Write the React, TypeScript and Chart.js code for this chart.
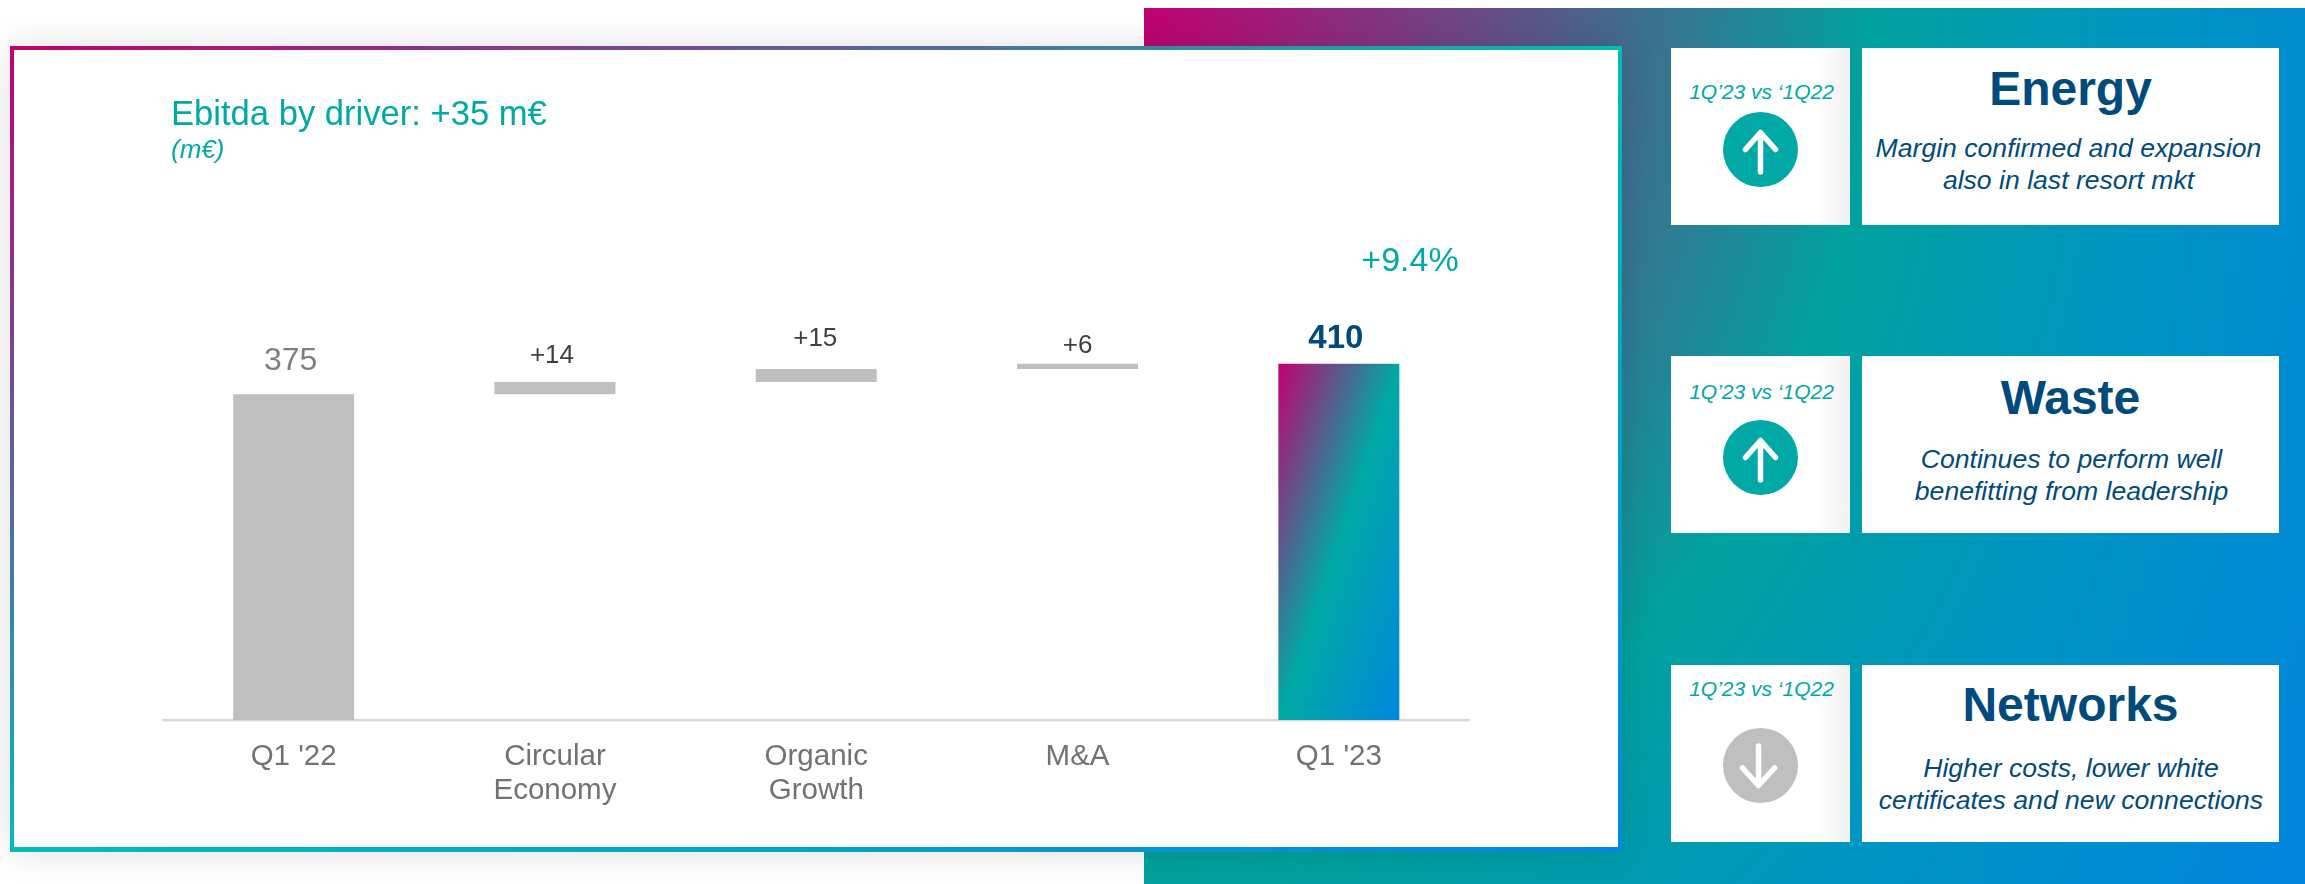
import React, { useEffect, useRef } from "react";
import { Chart, registerables } from "chart.js";

Chart.register(...registerables);

const categories: (string | string[])[] = ["Q1 '22", ["Circular", "Economy"], ["Organic", "Growth"], "M&A", "Q1 '23"];
const barRanges: [number, number][] = [[0, 375], [375, 389], [389, 404], [404, 410], [0, 410]];
const valueLabels = ["375", "+14", "+15", "+6", "410"];

const FONT = '"Liberation Sans", Arial, sans-serif';
const MAGENTA = "#c2006f";
const TEAL = "#00a9a5";
const BLUE = "#0088dc";
const NAVY = "#004a7c";
const GREY = "#bfbfbf";

// Style of each value label: font, colour, lift above the bar, horizontal nudge
const labelStyles = [
  { font: `32px ${FONT}`, color: "#7f7f7f", lift: 24, dx: -3 },
  { font: `26px ${FONT}`, color: "#404040", lift: 19, dx: -3 },
  { font: `26px ${FONT}`, color: "#404040", lift: 23, dx: -1 },
  { font: `26px ${FONT}`, color: "#404040", lift: 11, dx: 0 },
  { font: `bold 33px ${FONT}`, color: NAVY, lift: 16, dx: -3 },
];

const valueLabelPlugin = {
  id: "valueLabels",
  afterDatasetsDraw(chart: any) {
    const { ctx } = chart;
    const bars = chart.getDatasetMeta(0).data;
    ctx.save();
    ctx.textAlign = "center";
    ctx.textBaseline = "alphabetic";
    bars.forEach((bar: any, i: number) => {
      const s = labelStyles[i];
      ctx.font = s.font;
      ctx.fillStyle = s.color;
      ctx.fillText(valueLabels[i], bar.x + s.dx, Math.min(bar.y, bar.base) - s.lift);
    });
    ctx.restore();
  },
};

function barFill(context: any) {
  if (context.dataIndex !== 4) return GREY;
  const { chart } = context;
  const { x, y } = chart.scales;
  if (!x || !y) return TEAL;
  const half = (x.getPixelForValue(4) - x.getPixelForValue(3)) * 0.23;
  const left = x.getPixelForValue(4) - half;
  const top = y.getPixelForValue(barRanges[4][1]);
  const w = half * 2;
  const h = y.getPixelForValue(0) - top;
  // Axis perpendicular to the bar's anti-diagonal, so the mid stop joins two corners
  const k = (2 * w * h) / (w * w + h * h);
  const g = chart.ctx.createLinearGradient(left, top, left + h * k, top + w * k);
  g.addColorStop(0, MAGENTA);
  g.addColorStop(0.5, TEAL);
  g.addColorStop(1, BLUE);
  return g;
}

function BaselineText(props: {
  x: number; w: number; base: number; size: number; color: string;
  bold?: boolean; italic?: boolean; align?: "left" | "center"; children: React.ReactNode;
}) {
  const { x, w, base, size, color, bold, italic, align = "center", children } = props;
  const lh = size * 1.2;
  const top = base - ((lh - 1.117 * size) / 2 + 0.905 * size);
  return (
    <div
      style={{
        position: "absolute", left: x, top, width: w, textAlign: align, whiteSpace: "nowrap",
        fontFamily: FONT, fontSize: size, lineHeight: `${lh}px`, color,
        fontWeight: bold ? 700 : 400, fontStyle: italic ? "italic" : "normal",
      }}
    >
      {children}
    </div>
  );
}

function ArrowBadge(props: { top: number; up: boolean }) {
  const { top, up } = props;
  const fill = up ? TEAL : GREY;
  return (
    <svg style={{ position: "absolute", left: 1723, top }} width={75} height={75} viewBox="0 0 75 75">
      <circle cx={37.5} cy={37.5} r={37.5} fill={fill} />
      <g stroke="#fff" strokeWidth={5.5} strokeLinecap="round" strokeLinejoin="round" fill="none">
        {up ? (
          <path d="M37.5 60 V22 M22.5 37.5 L37.5 20.5 L52.5 37.5" />
        ) : (
          <path d="M35.5 18 V56 M19.5 40 L35.5 57.5 L51.5 40" />
        )}
      </g>
    </svg>
  );
}

const driverCards = [
  { top: 48, title: "Energy", lines: ["Margin confirmed and expansion", "also in last resort mkt"], up: true,
    periodBase: 99, titleBase: 105, lineBases: [158, 190], lineX: 1860, badgeTop: 112 },
  { top: 356, title: "Waste", lines: ["Continues to perform well", "benefitting from leadership"], up: true,
    periodBase: 399, titleBase: 414, lineBases: [469, 501], lineX: 1863, badgeTop: 420 },
  { top: 665, title: "Networks", lines: ["Higher costs, lower white", "certificates and new connections"], up: false,
    periodBase: 696, titleBase: 721, lineBases: [778, 810], lineX: 1862.5, badgeTop: 728 },
];

export default function App() {
  const canvasRef = useRef<HTMLCanvasElement>(null);

  useEffect(() => {
    document.body.style.margin = "0";
    document.body.style.background = "#fff";
    document.body.style.overflow = "hidden";
    const chart = new Chart(canvasRef.current!, {
      type: "bar",
      data: {
        labels: categories as any,
        datasets: [{
          data: barRanges as any,
          backgroundColor: barFill as any,
          barPercentage: 0.463,
          categoryPercentage: 1,
          borderSkipped: false,
          borderWidth: 0,
        }],
      },
      plugins: [valueLabelPlugin],
      options: {
        animation: false,
        responsive: false,
        layout: { padding: { left: 149, right: 148.5, top: 235.5, bottom: 0 } },
        plugins: { legend: { display: false }, tooltip: { enabled: false }, title: { display: false } },
        scales: {
          x: {
            grid: { display: false },
            border: { display: true, color: "#d9d9d9", width: 2.5 },
            ticks: {
              color: "#767171",
              font: { family: FONT, size: 29.5, lineHeight: 1.15 },
              padding: 12,
              maxRotation: 0,
              autoSkip: false,
            },
            afterFit: (scale: any) => { scale.height = 127; },
          },
          y: { display: false, min: 0, max: 500 },
        },
      },
    });
    return () => chart.destroy();
  }, []);

  return (
    <div style={{ position: "absolute", left: 0, top: 0, width: 2305, height: 884, overflow: "hidden", background: "#fff" }}>
      {/* Gradient backdrop on the right, spreading out from its top-left corner */}
      <div
        style={{
          position: "absolute", left: 1144, top: 8, width: 1161, height: 876,
          background: `radial-gradient(ellipse 1372px 1636px at 0 0, ${MAGENTA} 0%, #00a29e 53%, #0095c2 73%, #0084de 100%)`,
        }}
      />
      {/* Chart panel with gradient frame */}
      <div
        style={{
          position: "absolute", left: 10, top: 46, width: 1612, height: 806,
          background: `linear-gradient(to bottom right, ${MAGENTA} 0%, #00bdb8 50%, ${BLUE} 100%)`,
          boxShadow: "0 0 34px rgba(0,0,0,0.13)",
        }}
      />
      <div style={{ position: "absolute", left: 14, top: 50, width: 1604, height: 797, background: "#fff" }} />
      <canvas ref={canvasRef} width={1604} height={797} style={{ position: "absolute", left: 14, top: 50 }} />

      <BaselineText x={171} w={500} base={126} size={34.6} color={TEAL} align="left">Ebitda by driver: +35 m€</BaselineText>
      <BaselineText x={171} w={100} base={159} size={26} color={TEAL} italic align="left">(m€)</BaselineText>
      <BaselineText x={1310} w={200} base={271} size={34} color={TEAL}>+9.4%</BaselineText>

      {driverCards.map((c) => (
        <React.Fragment key={c.title}>
          <div
            style={{
              position: "absolute", left: 1671, top: c.top, width: 179, height: 177,
              background: "linear-gradient(to right, #fff 80%, #f1f1f1 100%)",
            }}
          />
          <div style={{ position: "absolute", left: 1862, top: c.top, width: 417, height: 177, background: "#fff" }} />
          <BaselineText x={1672} w={179} base={c.periodBase} size={21} color={TEAL} italic>1Q’23 vs ‘1Q22</BaselineText>
          <ArrowBadge top={c.badgeTop} up={c.up} />
          <BaselineText x={1862} w={417} base={c.titleBase} size={48} color={NAVY} bold>{c.title}</BaselineText>
          {c.lines.map((line, i) => (
            <BaselineText key={line} x={c.lineX} w={417} base={c.lineBases[i]} size={26.6} color={NAVY} italic>{line}</BaselineText>
          ))}
        </React.Fragment>
      ))}
    </div>
  );
}
